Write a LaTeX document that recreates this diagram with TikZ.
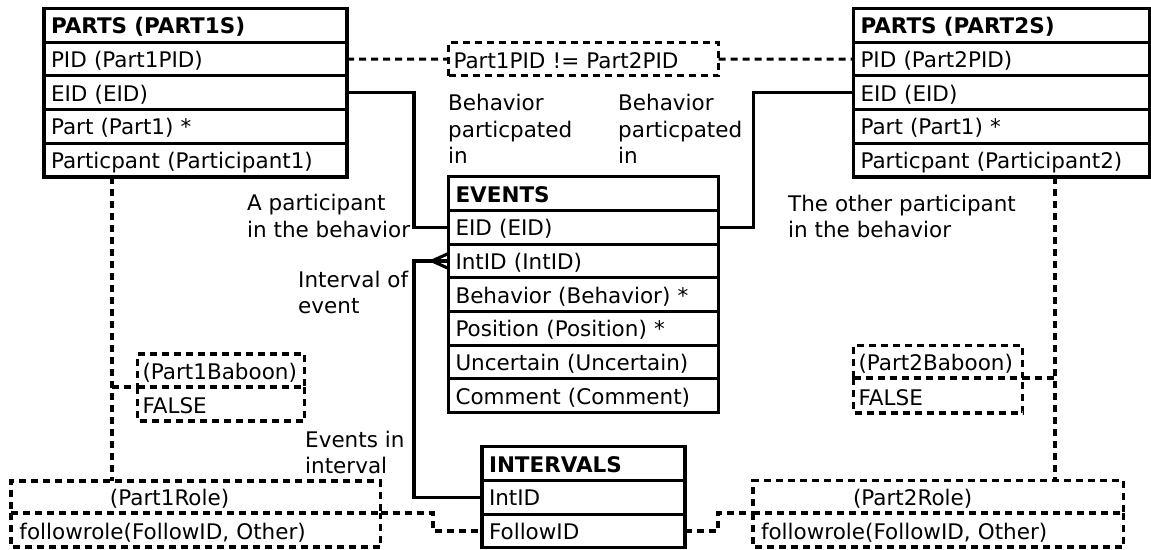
\documentclass[tikz,border=0pt]{standalone}
\usepackage{fontspec}
\setmainfont{DejaVu Sans}
\usetikzlibrary{calc}
\setlength{\parindent}{0pt}
\begin{document}
\begin{tikzpicture}[x=1pt,y=-1pt,
  txt/.style={font=\fontsize{21.5}{26.7}\selectfont},
  cell/.style={draw, line width=3.1pt, inner xsep=7pt, inner ysep=0pt, outer sep=0pt,
    anchor=north west, text height=25.3pt, text depth=8.4pt, text width=#1, align=left, txt},
  dline/.style={line width=3.1pt, dash pattern=on 7pt off 5pt},
  sline/.style={line width=3.1pt},
  dcell/.style 2 args={cell=#1, dline, inner xsep=5pt, text height=#2, text depth=7.5pt},
  vcell/.style 2 args={dcell={#1}{#2}, draw=none},
  lbl/.style={txt, align=left, inner sep=0pt, anchor=north west}
]
\useasboundingbox (0,0) rectangle (1151,549);

% PARTS (PART1S)
\node[cell=289pt] (p1title) at (44,8.5) {\textbf{PARTS (PART1S)}};
\node[cell=289pt] (p1pid) at (p1title.south west) {PID (Part1PID)};
\node[cell=289pt] (p1eid) at (p1pid.south west) {EID (EID)};
\node[cell=289pt] (p1part) at (p1eid.south west) {Part (Part1) *};
\node[cell=289pt] (p1ptc) at (p1part.south west) {Particpant (Participant1)};

% PARTS (PART2S)
\node[cell=282pt] (p2title) at (853.5,8.5) {\textbf{PARTS (PART2S)}};
\node[cell=282pt] (p2pid) at (p2title.south west) {PID (Part2PID)};
\node[cell=282pt] (p2eid) at (p2pid.south west) {EID (EID)};
\node[cell=282pt] (p2part) at (p2eid.south west) {Part (Part1) *};
\node[cell=282pt] (p2ptc) at (p2part.south west) {Particpant (Participant2)};

% EVENTS
\node[cell=256pt] (evtitle) at (448.5,176.7) {\textbf{EVENTS}};
\node[cell=256pt] (evEid) at (evtitle.south west) {EID (EID)};
\node[cell=256pt] (evIntID) at (evEid.south west) {IntID (IntID)};
\node[cell=256pt] (evBeh) at (evIntID.south west) {Behavior (Behavior) *};
\node[cell=256pt] (evPos) at (evBeh.south west) {Position (Position) *};
\node[cell=256pt] (evUnc) at (evPos.south west) {Uncertain (Uncertain)};
\node[cell=256pt] (evCom) at (evUnc.south west) {Comment (Comment)};

% INTERVALS
\node[cell=189pt] (ivtitle) at (482,446.7) {\textbf{INTERVALS}};
\node[cell=189pt] (ivIntID) at (ivtitle.south west) {IntID};
\node[cell=189pt] (ivfollow) at (ivIntID.south west) {FollowID};

% constraint between the two parts
\node[dcell={260pt}{26.2pt}] (cons) at (448.5,42.2) {Part1PID != Part2PID};

% baboon flags
\node[dcell={157pt}{25.5pt}] (b1head) at (137.5,354) {(Part1Baboon)};
\node[vcell={157pt}{26.5pt}] (b1val) at (b1head.south west) {FALSE};
\node[dcell={159pt}{25.2pt}] (b2head) at (853.5,345.3) {(Part2Baboon)};
\node[vcell={159pt}{27.5pt}] (b2val) at (b2head.south west) {FALSE};

% roles
\node[dcell={352.5pt}{24.5pt}, inner xsep=8.5pt] (r1head) at (11,481) {\hspace*{90.5pt}(Part1Role)};
\node[vcell={352.5pt}{26.5pt}, inner xsep=8.5pt] (r1val) at (r1head.south west) {followrole(FollowID, Other)};
\node[dcell={354.5pt}{25pt}, inner xsep=8pt] (r2head) at (753,480.5) {\hspace*{92pt}(Part2Role)};
\node[vcell={354.5pt}{26.5pt}, inner xsep=8pt] (r2val) at (r2head.south west) {followrole(FollowID, Other)};

\foreach \v in {b1val,b2val,r1val,r2val}
  \draw[dline] (\v.north west) -- (\v.south west) -- (\v.south east) -- (\v.north east);

% labels
\node[lbl] (beh1) at (448,94) {Behavior\\particpated\\in};
\node[lbl] (beh2) at (618,94) {Behavior\\particpated\\in};
\node[lbl] (apart) at (247,194) {A participant\\in the behavior};
\node[lbl] (intev) at (298,270.6) {Interval of\\event};
\node[lbl] (other) at (788,194.6) {The other participant\\in the behavior};
\node[lbl] (evin) at (305,430.6) {Events in\\interval};

% routing columns
\coordinate (lx) at (112,0);
\coordinate (rx) at (1055,0);
\coordinate (ja) at (414,0);
\coordinate (jb) at (753.5,0);
\coordinate (jl) at (433,0);
\coordinate (jr) at (718,0);

% dashed links
\draw[dline] (p1pid.east) -- (cons.west);
\draw[dline] (cons.east) -- (p2pid.west);
\draw[dline] (p1ptc.south -| lx) -- (r1head.north -| lx);
\draw[dline] (lx |- b1head.south west) -- (b1head.south west);
\draw[dline] (p2ptc.south -| rx) -- (r2head.north -| rx);
\draw[dline] (b2head.south east) -- (rx |- b2head.south east);
\draw[dline] (r1head.south east) -| (jl |- ivfollow.west) -- (ivfollow.west);
\draw[dline] (ivfollow.east) -| (jr |- r2head.south west) -- (r2head.south west);

% solid relations
\draw[sline] (p1eid.east) -| (ja |- evEid.west) -- (evEid.west);
\draw[sline] (evEid.east) -| (jb |- p2eid.west) -- (p2eid.west);
\draw[sline] (ivIntID.west) -| (ja |- evIntID.west) -- (evIntID.west);
\coordinate (cf) at ($(evIntID.west)+(-16.5,0)$);
\draw[sline] ($(evIntID.west)+(0,-7.5)$) -- (cf) -- ($(evIntID.west)+(0,7.5)$);
\end{tikzpicture}
\end{document}
